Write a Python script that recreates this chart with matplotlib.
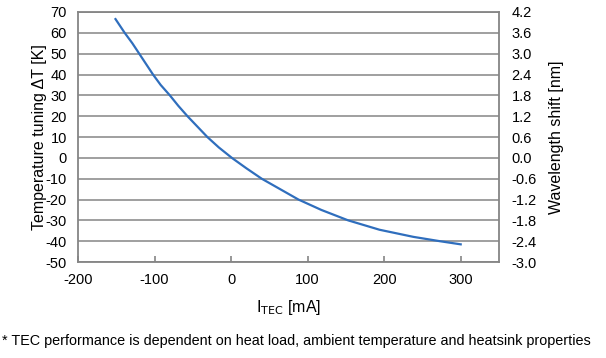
import matplotlib.pyplot as plt

plt.rcParams['font.family'] = ['Liberation Sans', 'DejaVu Sans']
plt.rcParams['axes.unicode_minus'] = False

# current (mA) vs temperature tuning (K)
current = [-151, -139, -129, -120, -111, -102, -92, -80, -69, -57, -44, -31, -16,
           1, 20, 40, 64, 88, 118, 153, 194, 238, 273, 300]
delta_t = [66.6, 60, 55, 50, 45, 40, 35, 30, 25, 20, 15, 10, 5,
           0, -5, -10, -15, -20, -25, -30, -34.5, -37.9, -40, -41.5]
nm_per_k = 0.06

x_ticks = [-200, -100, 0, 100, 200, 300]
t_ticks = list(range(-50, 71, 10))
nm_ticks = [round(t * nm_per_k, 1) for t in t_ticks]

fig = plt.figure(figsize=(6.06, 3.58), dpi=100)
ax = fig.add_axes([0.1287, 0.268, 0.6947, 0.6985])
grey = '#858585'

ax.plot(current, delta_t, color='#2f6ebd', lw=1.6)
ax.set_xlim(-200, 350)
ax.set_ylim(-50, 70)
ax.set_xticks(x_ticks)
ax.set_yticks(t_ticks)
ax.yaxis.grid(True, color=grey, lw=1.1)
ax.set_axisbelow(True)
for s in ax.spines.values():
    s.set_color(grey)
    s.set_linewidth(1.3)
ax.tick_params(axis='x', direction='in', length=4, color=grey, width=1.2, labelsize=10.5, pad=8)
ax.tick_params(axis='y', length=0, labelsize=10.5, pad=8)
ax.set_ylabel('Temperature tuning ΔT [K]', fontsize=11.5, labelpad=-1)
ax.set_xlabel('I$_{\\mathrm{TEC}}$ [mA]', fontsize=11.5, labelpad=8)

ax2 = ax.twinx()
ax2.set_ylim(-50 * nm_per_k, 70 * nm_per_k)
ax2.set_yticks(nm_ticks)
ax2.set_yticklabels([f'{v:.1f}' for v in nm_ticks])
ax2.tick_params(axis='y', length=0, labelsize=10.5, pad=9)
for s in ax2.spines.values():
    s.set_visible(False)
ax2.set_ylabel('Wavelength shift [nm]', fontsize=11.5, labelpad=9)

fig.text(0.004, 0.047, '* TEC performance is dependent on heat load, ambient temperature and heatsink properties',
         fontsize=10.4, ha='left', va='center')

fig.savefig('out.png', dpi=100)
